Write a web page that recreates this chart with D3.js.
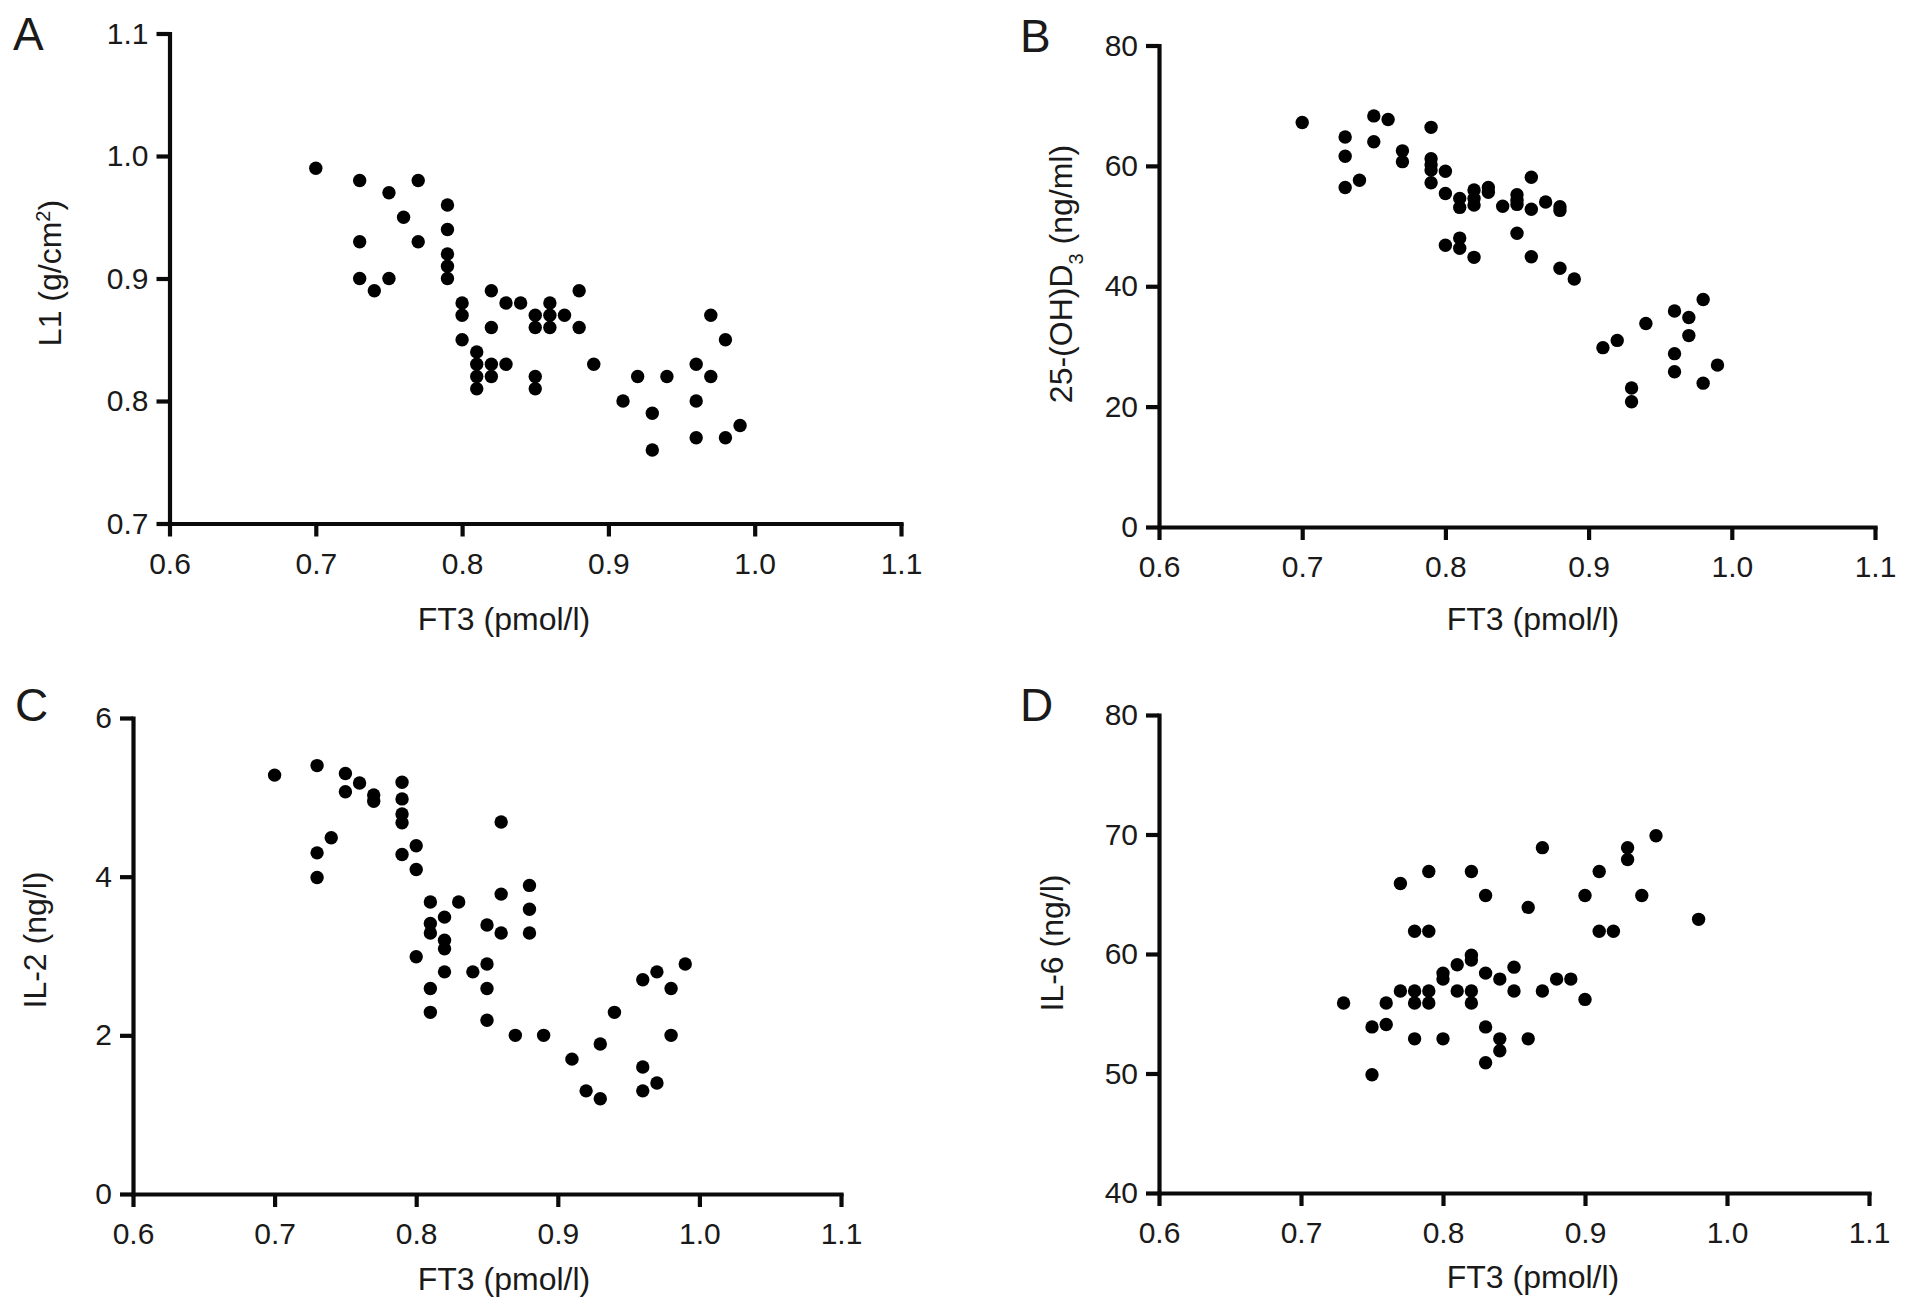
<!DOCTYPE html>
<html>
<head>
<meta charset="utf-8">
<script src="https://cdn.jsdelivr.net/npm/d3@7.9.0/dist/d3.min.js"></script>
<style>
  body { margin: 0; background: #fff; }
  svg { font-family: "Liberation Sans", Arial, sans-serif; }
  .tick text { font-size: 30px; fill: #1a1a1a; }
  .domain, .tick line { stroke: #0a0a0a; stroke-width: 4.2; }
  .title { font-size: 32px; fill: #1a1a1a; }
  .letter { font-size: 46px; fill: #1a1a1a; }
</style>
</head>
<body>
<svg id="chart" width="1913" height="1316"></svg>
<script>
// FT3 vs L1 bone density (panel A)
const ft3A = [0.70, 0.73, 0.77, 0.75, 0.76, 0.79, 0.79, 0.73, 0.77, 0.79, 0.79, 0.79, 0.73, 0.75, 0.74,
  0.80, 0.80, 0.82, 0.83, 0.84, 0.85, 0.85, 0.86, 0.86, 0.86, 0.87, 0.88, 0.88, 0.82, 0.80,
  0.81, 0.81, 0.81, 0.81, 0.82, 0.82, 0.83, 0.85, 0.85, 0.89, 0.92, 0.94, 0.91, 0.93, 0.93,
  0.96, 0.97, 0.96, 0.96, 0.97, 0.98, 0.98, 0.99];
const l1 = [0.99, 0.98, 0.98, 0.97, 0.95, 0.96, 0.94, 0.93, 0.93, 0.92, 0.91, 0.90, 0.90, 0.90, 0.89,
  0.88, 0.87, 0.89, 0.88, 0.88, 0.87, 0.86, 0.88, 0.87, 0.86, 0.87, 0.89, 0.86, 0.86, 0.85,
  0.84, 0.83, 0.82, 0.81, 0.83, 0.82, 0.83, 0.82, 0.81, 0.83, 0.82, 0.82, 0.80, 0.79, 0.76,
  0.83, 0.82, 0.80, 0.77, 0.87, 0.85, 0.77, 0.78];

// FT3 vs 25-(OH)D3 (panel B)
const ft3B = [0.70, 0.75, 0.76, 0.79, 0.73, 0.75, 0.77, 0.77, 0.73, 0.79, 0.79, 0.79, 0.79, 0.80, 0.74,
  0.73, 0.80, 0.81, 0.81, 0.82, 0.82, 0.82, 0.83, 0.83, 0.84, 0.85, 0.85, 0.85, 0.86, 0.86,
  0.87, 0.88, 0.88, 0.80, 0.81, 0.81, 0.82, 0.85, 0.86, 0.88, 0.89, 0.91, 0.92, 0.94, 0.96,
  0.97, 0.98, 0.97, 0.96, 0.96, 0.99, 0.98, 0.93, 0.93];
const vitD = [67.2, 68.3, 67.7, 66.4, 64.8, 64.0, 62.5, 60.7, 61.6, 61.2, 60.2, 59.3, 57.2, 59.1, 57.6,
  56.4, 55.4, 54.6, 53.1, 56.0, 54.6, 53.5, 56.4, 55.6, 53.3, 55.2, 54.3, 53.6, 58.1, 52.8,
  54.0, 53.2, 52.6, 46.8, 48.0, 46.3, 44.8, 48.8, 44.9, 43.0, 41.2, 29.8, 31.0, 33.8, 35.9,
  34.8, 37.8, 31.8, 28.8, 25.8, 26.9, 23.9, 23.1, 20.8];

// FT3 vs IL-2 (panel C)
const ft3C = [0.70, 0.73, 0.75, 0.76, 0.75, 0.77, 0.77, 0.79, 0.79, 0.79, 0.79, 0.74, 0.73, 0.73,
  0.79, 0.80, 0.80, 0.86, 0.88, 0.86, 0.88, 0.88, 0.86, 0.81, 0.83, 0.82, 0.81, 0.81, 0.82,
  0.82, 0.85, 0.80, 0.85, 0.82, 0.84, 0.81, 0.85, 0.81, 0.85, 0.87, 0.89, 0.91, 0.93, 0.94,
  0.92, 0.93, 0.96, 0.97, 0.99, 0.98, 0.98, 0.96, 0.97, 0.96];
const il2 = [5.28, 5.40, 5.30, 5.18, 5.07, 5.03, 4.95, 5.19, 4.98, 4.79, 4.68, 4.49, 4.30, 3.99,
  4.28, 4.39, 4.09, 4.69, 3.89, 3.78, 3.59, 3.29, 3.29, 3.68, 3.68, 3.49, 3.41, 3.29, 3.20,
  3.09, 3.39, 2.99, 2.90, 2.80, 2.80, 2.59, 2.59, 2.29, 2.19, 2.00, 2.00, 1.70, 1.89, 2.29,
  1.30, 1.20, 2.70, 2.80, 2.90, 2.59, 2.00, 1.60, 1.40, 1.30];

// FT3 vs IL-6 (panel D)
const ft3D = [0.73, 0.75, 0.75, 0.76, 0.76, 0.77, 0.77, 0.78, 0.78, 0.78, 0.78, 0.79, 0.79, 0.79,
  0.79, 0.80, 0.80, 0.80, 0.81, 0.81, 0.82, 0.82, 0.82, 0.82, 0.82, 0.83, 0.83, 0.83, 0.83,
  0.84, 0.84, 0.84, 0.85, 0.85, 0.86, 0.86, 0.87, 0.87, 0.88, 0.89, 0.90, 0.90, 0.91, 0.91,
  0.92, 0.93, 0.93, 0.94, 0.95, 0.98];
const il6 = [55.9, 53.9, 49.9, 55.9, 54.1, 56.9, 65.9, 56.9, 55.9, 61.9, 52.9, 66.9, 61.9, 56.9,
  55.9, 58.4, 57.9, 52.9, 59.1, 56.9, 59.9, 59.5, 66.9, 56.9, 55.9, 64.9, 58.4, 53.9, 50.9,
  57.9, 52.9, 51.9, 58.9, 56.9, 63.9, 52.9, 68.9, 56.9, 57.9, 57.9, 64.9, 56.2, 66.9, 61.9,
  61.9, 68.9, 67.9, 64.9, 69.9, 62.9];

const ft3Ticks = [0.6, 0.7, 0.8, 0.9, 1.0, 1.1];
const l1Ticks = [0.7, 0.8, 0.9, 1.0, 1.1];
const vitDTicks = [0, 20, 40, 60, 80];
const il2Ticks = [0, 2, 4, 6];
const il6Ticks = [40, 50, 60, 70, 80];

const svg = d3.select("#chart");

const panels = [
  { letter: "A", xs: ft3A, ys: l1, yTicks: l1Ticks, yFmt: ".1f",
    left: 169.5, right: 901, top: 33.5, bottom: 523.5,
    xTitle: [504, 630], yTitle: [61, 273], letterPos: [13, 50],
    yLabel: t => { t.text("L1 (g/cm"); t.append("tspan").attr("baseline-shift", "super").attr("font-size", "20px").text("2"); t.append("tspan").text(")"); } },
  { letter: "B", xs: ft3B, ys: vitD, yTicks: vitDTicks, yFmt: "d",
    left: 1159, right: 1875, top: 45.5, bottom: 527,
    xTitle: [1533, 630], yTitle: [1072, 274], letterPos: [1020, 52],
    yLabel: t => { t.text("25-(OH)D"); t.append("tspan").attr("baseline-shift", "sub").attr("font-size", "20px").text("3"); t.append("tspan").text(" (ng/ml)"); } },
  { letter: "C", xs: ft3C, ys: il2, yTicks: il2Ticks, yFmt: "d",
    left: 133, right: 841, top: 718, bottom: 1194,
    xTitle: [504, 1290], yTitle: [46, 940], letterPos: [15, 721],
    yLabel: t => t.text("IL-2 (ng/l)") },
  { letter: "D", xs: ft3D, ys: il6, yTicks: il6Ticks, yFmt: "d",
    left: 1159, right: 1869, top: 715, bottom: 1193,
    xTitle: [1533, 1288], yTitle: [1063, 943], letterPos: [1020, 721],
    yLabel: t => t.text("IL-6 (ng/l)") }
];

panels.forEach(p => {
  const x = d3.scaleLinear().domain([0.6, 1.1]).range([p.left, p.right]);
  const y = d3.scaleLinear().domain(d3.extent(p.yTicks)).range([p.bottom, p.top]);

  // y axis
  svg.append("g")
    .attr("transform", `translate(${p.left},0)`)
    .call(d3.axisLeft(y).tickValues(p.yTicks).tickFormat(d3.format(p.yFmt))
      .tickSize(13).tickSizeOuter(0).tickPadding(8))
    .call(g => g.selectAll(".tick text").attr("font-family", null).attr("font-size", null));

  // x axis
  svg.append("g")
    .attr("transform", `translate(0,${p.bottom})`)
    .call(d3.axisBottom(x).tickValues(ft3Ticks).tickFormat(d3.format(".1f"))
      .tickSize(13).tickSizeOuter(0).tickPadding(16))
    .call(g => g.selectAll(".tick text").attr("font-family", null).attr("font-size", null));

  svg.selectAll("g .domain").attr("stroke-linecap", "square");

  // dots
  svg.append("g")
    .selectAll("circle")
    .data(d3.zip(p.xs, p.ys))
    .join("circle")
    .attr("cx", d => x(d[0]))
    .attr("cy", d => y(d[1]))
    .attr("r", 6.7)
    .attr("fill", "#000");

  svg.append("text").attr("class", "title")
    .attr("x", p.xTitle[0]).attr("y", p.xTitle[1])
    .attr("text-anchor", "middle")
    .text("FT3 (pmol/l)");

  const yt = svg.append("text").attr("class", "title")
    .attr("transform", `translate(${p.yTitle[0]},${p.yTitle[1]}) rotate(-90)`)
    .attr("text-anchor", "middle");
  p.yLabel(yt);

  svg.append("text").attr("class", "letter")
    .attr("x", p.letterPos[0]).attr("y", p.letterPos[1])
    .text(p.letter);
});
</script>
</body>
</html>
